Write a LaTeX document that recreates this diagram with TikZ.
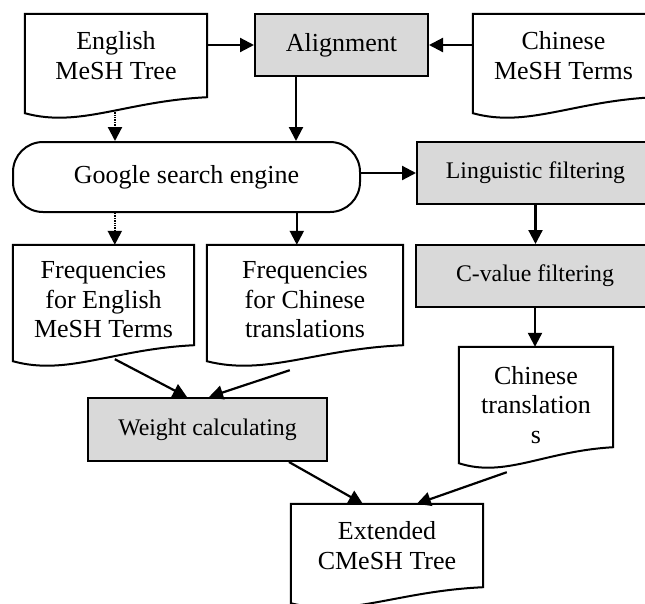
\documentclass[tikz,border=0pt]{standalone}
\usepackage{fontspec}
\setmainfont{Liberation Serif}
\usepackage{tikz}
\usetikzlibrary{arrows.meta,calc}
\definecolor{ink}{HTML}{000000}
\definecolor{procgray}{HTML}{D9D9D9}
\definecolor{paper}{HTML}{FFFFFF}
\tikzset{
  flowarr/.style={-{Triangle[length=14pt,width=14pt]},line width=2.2pt,color=ink},
  dotarr/.style={flowarr,dash pattern=on 1.4pt off 1pt},
  docline/.style={draw=ink,fill=paper,line width=2pt},
  doctext/.style={draw=none,inner sep=0pt,align=center,font=\fontsize{26}{29.5}\selectfont},
  procbox/.style={draw=ink,fill=procgray,line width=2pt,inner sep=0pt,align=center,font=\fontsize{26}{29.5}\selectfont},
  smallproc/.style={procbox,font=\fontsize{23.8}{28}\selectfont},
  termbox/.style={draw=ink,fill=paper,line width=2pt,rounded corners=30pt,inner sep=0pt,font=\fontsize{26}{29.5}\selectfont}
}
\newcommand{\docframe}[1]{%
  \draw[docline] (#1.south east) -- (#1.north east) -- (#1.north west) -- ($(#1.south west)+(0,16)$)
    .. controls ($(#1.south west)!0.3!(#1.south east)+(0,31)$) and ($(#1.south west)!0.55!(#1.south east)+(0,4)$) .. (#1.south east) -- cycle;}

\begin{document}
\begin{tikzpicture}[x=1pt,y=-1pt]
  \useasboundingbox (0,0) rectangle (645,603);
  \clip (0,0) rectangle (645,603);
  % documents
  \node[doctext,minimum width=182pt,minimum height=83pt] (eng) at (116,55.5) {};
  \docframe{eng}
  \node[doctext] at (eng) {English\\MeSH Tree};
  \node[doctext,minimum width=181pt,minimum height=83pt] (chi) at (563.5,55.5) {};
  \docframe{chi}
  \node[doctext] at (chi) {Chinese\\MeSH Terms};
  \node[doctext,minimum width=181pt,minimum height=100pt] (fe) at (103.5,295) {};
  \docframe{fe}
  \node[doctext] at ([yshift=-5pt]fe.center) {Frequencies\\for English\\MeSH Terms};
  \node[doctext,minimum width=196pt,minimum height=100pt] (fc) at (305,295) {};
  \docframe{fc}
  \node[doctext] at ([yshift=-5pt]fc.center) {Frequencies\\for Chinese\\translations};
  \node[doctext,minimum width=154pt,minimum height=100pt] (ct) at (536,397) {};
  \docframe{ct}
  \node[doctext] at ([yshift=-8pt]ct.center) {Chinese\\translation\\s};
  \node[doctext,minimum width=192pt,minimum height=83pt] (ext) at (387,545.5) {};
  \docframe{ext}
  \node[doctext] at (ext) {Extended\\CMeSH Tree};
  % processes
  \node[procbox,minimum width=173pt,minimum height=62pt] (align) at (341.5,45) {Alignment};
  \node[termbox,minimum width=347pt,minimum height=70pt] (google) at (186.5,177) {Google search engine};
  \node[smallproc,minimum width=237pt,minimum height=62pt] (ling) at (535.5,173) {Linguistic filtering};
  \node[smallproc,minimum width=238pt,minimum height=62pt] (cval) at (535,276) {C-value filtering};
  \node[smallproc,minimum width=239pt,minimum height=63pt] (wt) at (207.5,429.5) {Weight calculating};
  % connectors
  \draw[flowarr] (eng.east |- align.west) -- (align.west);
  \draw[flowarr] (chi.west |- align.east) -- (align.east);
  \draw[flowarr] ([xshift=42pt]align.south west) -- ([xshift=42pt]align.south west |- google.north);
  \draw[dotarr] ([xshift=-1pt,yshift=-15pt]eng.south) -- ([xshift=-1pt]eng.south |- google.north);
  \draw[flowarr] (google.east |- ling.west) -- (ling.west);
  \draw[dotarr] ([xshift=102pt]fe.north west |- google.south) -- ([xshift=102pt]fe.north west);
  \draw[flowarr] ([xshift=90pt]fc.north west |- google.south) -- ([xshift=90pt]fc.north west);
  \draw[flowarr] (ling.south) -- (ling.south |- cval.north);
  \draw[flowarr] (cval.south) -- (cval.south |- ct.north);
  \draw[flowarr] ($(fe.south west)+(102,14)$) -- ($(wt.north west)+(100,0)$);
  \draw[flowarr] ($(fc.south west)+(83,25)$) -- ($(wt.north west)+(122,0)$);
  \draw[flowarr] ($(wt.south west)+(202,0)$) -- ($(ext.north west)+(72,0)$);
  \draw[flowarr] ($(ct.south west)+(48,25)$) -- ($(ext.north west)+(126,0)$);
\end{tikzpicture}
\end{document}
